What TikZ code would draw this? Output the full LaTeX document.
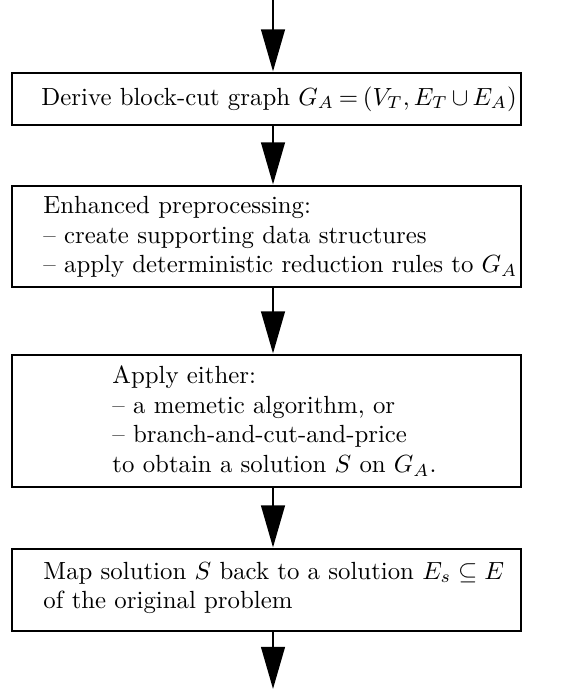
\documentclass[tikz,border=0pt]{standalone}
\usetikzlibrary{arrows.meta,fit}
\begin{document}
\begin{tikzpicture}[x=0.403pt,y=-0.403pt,
  box/.style={draw,line width=1.2pt,inner sep=0pt},
  txt/.style={anchor=west,align=left,inner sep=0pt,font=\fontsize{10}{12}\selectfont},
  arr/.style={line width=1.1pt,-{Triangle[length=17pt,width=9.5pt]}}]
\useasboundingbox (0,0) rectangle (567,689);
\node[box,fit={(12,73)(521,125)}] (box1) {};
\node[box,fit={(12,186)(521,287)}] (box2) {};
\node[box,fit={(12,355)(521,487)}] (box3) {};
\node[box,fit={(12,549)(521,631)}] (box4) {};
\node[txt] (t1) at (41,99) {Derive block-cut graph {\thickmuskip=3.5mu\medmuskip=3mu$G_A=(V_T,E_T\cup E_A)$}};
\node[txt] (t2) at (43,237) {Enhanced preprocessing:\\
 -- create supporting data structures\\
 -- apply deterministic reduction rules to $G_A$};
\node[txt] (t3) at (112,421) {Apply either:\\
 -- a memetic algorithm, or\\
 -- branch-and-cut-and-price\\
 to obtain a solution $S$ on $G_A$.};
\node[txt] (t4) at (43,588) {Map solution $S$ back to a solution $E_s\subseteq E$\\
 of the original problem};
\coordinate (in) at (273,0);
\coordinate (out) at (273,689);
\draw[arr] (in) -- (box1.north -| in);
\draw[arr] (box1.south -| in) -- (box2.north -| in);
\draw[arr] (box2.south -| in) -- (box3.north -| in);
\draw[arr] (box3.south -| in) -- (box4.north -| in);
\draw[arr] (box4.south -| in) -- (out);
\end{tikzpicture}
\end{document}
